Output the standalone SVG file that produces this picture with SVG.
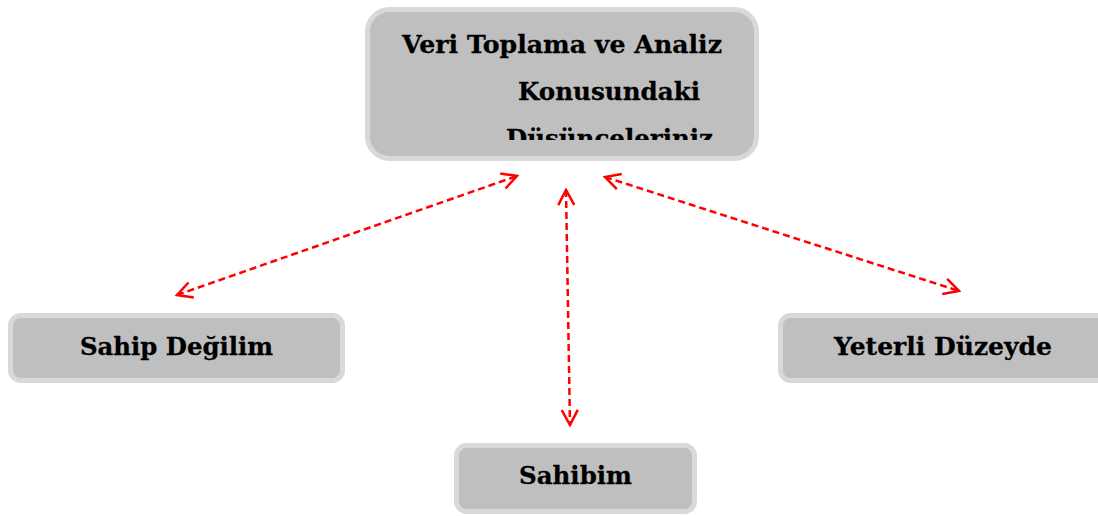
<svg xmlns="http://www.w3.org/2000/svg" width="1098" height="516" viewBox="0 0 1098 516">
<style>
.box{fill:#bfbfbf;stroke:#d9d9d9;stroke-width:5}
.t{font-family:"DejaVu Serif","Liberation Serif",serif;font-weight:bold;font-size:25px;fill:#000;stroke:#000;stroke-width:0.3}
.c{fill:none;stroke:#ff0000;stroke-width:2.5;stroke-dasharray:7,4}
</style>
<defs>
<marker id="ah" viewBox="0 0 22 22" refX="20" refY="11" markerWidth="22" markerHeight="22" markerUnits="userSpaceOnUse" orient="auto-start-reverse">
<path d="M5,3 L20,11 L5,19" fill="none" stroke="#ff0000" stroke-width="2.5"/>
</marker>
<clipPath id="clipTop"><rect x="365" y="0" width="400" height="140"/></clipPath>
</defs>
<g id="node-top">
<rect class="box" x="367.5" y="9.5" width="389" height="149" rx="22"/>
<g clip-path="url(#clipTop)">
<text class="t" x="402" y="53" textLength="320" lengthAdjust="spacingAndGlyphs">Veri Toplama ve Analiz</text>
<text class="t" x="518" y="100" textLength="182" lengthAdjust="spacingAndGlyphs">Konusundaki</text>
<text class="t" x="506" y="147" textLength="207" lengthAdjust="spacingAndGlyphs">Düşünceleriniz</text>
</g>
</g>
<g id="node-sahip-degilim">
<rect class="box" x="10.5" y="315.5" width="332" height="65" rx="10"/>
<text class="t" x="80" y="355" textLength="193" lengthAdjust="spacingAndGlyphs">Sahip Değilim</text>
</g>
<g id="node-sahibim">
<rect class="box" x="456.5" y="445.5" width="238" height="66" rx="10"/>
<text class="t" x="519" y="484" textLength="113" lengthAdjust="spacingAndGlyphs">Sahibim</text>
</g>
<g id="node-yeterli">
<rect class="box" x="780.5" y="315.5" width="340" height="65" rx="10"/>
<text class="t" x="834" y="355" textLength="218" lengthAdjust="spacingAndGlyphs">Yeterli Düzeyde</text>
</g>
<g id="connectors">
<line class="c" x1="177" y1="295" x2="517" y2="176" marker-start="url(#ah)" marker-end="url(#ah)"/>
<line class="c" x1="566" y1="190" x2="570" y2="425" marker-start="url(#ah)" marker-end="url(#ah)"/>
<line class="c" x1="605" y1="177" x2="959" y2="291" marker-start="url(#ah)" marker-end="url(#ah)"/>
</g>
</svg>
